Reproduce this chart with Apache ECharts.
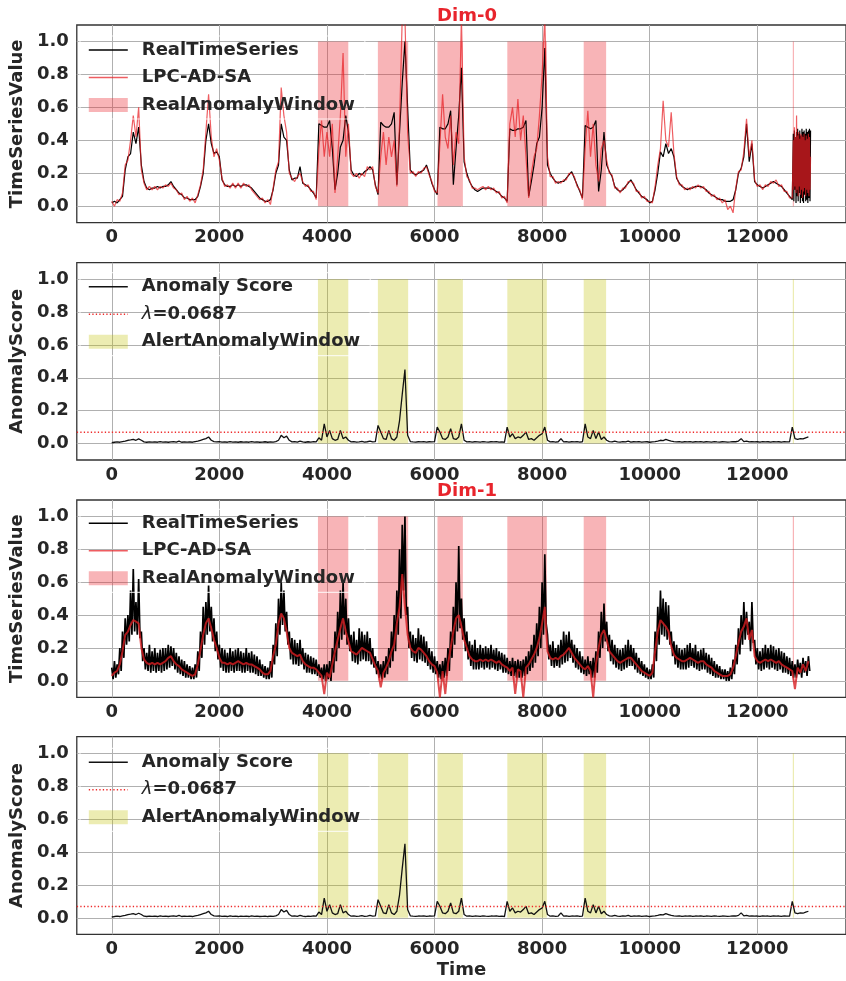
<!DOCTYPE html>
<html><head><meta charset="utf-8">
<script src="https://cdn.jsdelivr.net/npm/echarts@6/dist/echarts.min.js"></script>
<style>html,body{margin:0;padding:0;background:#fff}#c{width:846px;height:981px}</style>
</head><body><div id="c"></div>
<script>
// ---------------- data ----------------
const STEP = 50;              // time step of the main arrays (starting at t=0)
const TAIL_START = 12660;     // dense tail of Dim-0 (noisy end block)
const TAIL_STEP = 10;
const X_TICKS = [0, 2000, 4000, 6000, 8000, 10000, 12000];
const Y_TICKS = [0, 0.2, 0.4, 0.6, 0.8, 1.0];
const X_MIN = -650, X_MAX = 13649;
const Y_MIN = -0.1, Y_MAX = 1.1;
const LAMBDA = 0.0687;
const LAMBDA_NAME = 'λ=0.0687';
const windowStart = [3833, 4947, 6055, 7353, 8773, 12660];
const windowEnd   = [4397, 5510, 6527, 8088, 9190, 12680];
const SPAN_BOTTOM = 0.0, SPAN_TOP = 1.0;

// Dim-0 real series, t = 0..12650 step 50
const real0 = [
 0.02,0.03,0.02,0.04,0.06,0.22,0.30,0.32,0.45,0.38,
 0.48,0.25,0.15,0.11,0.10,0.11,0.11,0.12,0.11,0.12,
 0.12,0.13,0.15,0.12,0.10,0.08,0.07,0.05,0.05,0.04,
 0.04,0.04,0.06,0.12,0.20,0.40,0.50,0.38,0.32,0.33,
 0.30,0.16,0.13,0.12,0.12,0.13,0.12,0.13,0.12,0.13,
 0.13,0.12,0.11,0.09,0.07,0.05,0.04,0.03,0.03,0.04,
 0.10,0.20,0.25,0.50,0.42,0.40,0.22,0.16,0.17,0.17,
 0.24,0.14,0.13,0.12,0.10,0.08,0.05,0.50,0.49,0.48,
 0.48,0.52,0.35,0.10,0.20,0.36,0.40,0.55,0.45,0.22,
 0.19,0.18,0.20,0.19,0.21,0.22,0.24,0.22,0.13,0.07,
 0.51,0.49,0.48,0.48,0.50,0.57,0.13,0.45,0.75,1.00,
 0.60,0.22,0.20,0.19,0.20,0.21,0.22,0.25,0.20,0.14,
 0.10,0.07,0.48,0.47,0.47,0.50,0.58,0.13,0.35,0.55,
 0.84,0.27,0.20,0.15,0.12,0.10,0.09,0.10,0.11,0.11,
 0.11,0.11,0.10,0.09,0.08,0.06,0.05,0.03,0.47,0.46,
 0.46,0.47,0.47,0.48,0.52,0.06,0.15,0.25,0.38,0.42,
 0.60,0.96,0.25,0.20,0.17,0.15,0.14,0.15,0.15,0.17,
 0.19,0.21,0.17,0.13,0.09,0.05,0.49,0.48,0.47,0.48,
 0.52,0.09,0.22,0.45,0.25,0.21,0.18,0.12,0.10,0.09,
 0.10,0.12,0.14,0.16,0.13,0.10,0.08,0.06,0.05,0.04,
 0.02,0.03,0.10,0.20,0.33,0.30,0.38,0.32,0.35,0.30,
 0.17,0.14,0.12,0.11,0.10,0.11,0.11,0.12,0.12,0.12,
 0.11,0.10,0.08,0.07,0.06,0.05,0.04,0.04,0.03,0.03,
 0.03,0.04,0.10,0.20,0.23,0.30,0.50,0.27,0.38,0.15,
 0.13,0.12,0.11,0.12,0.13,0.14,0.15,0.14,0.13,0.12,
 0.10,0.08,0.06,0.04
];
// Dim-0 LPC-AD-SA prediction, t = 0..12650 step 50
const pred0 = [
 0.03,0.00,0.04,0.03,0.08,0.25,0.28,0.40,0.55,0.42,
 0.60,0.22,0.14,0.10,0.12,0.10,0.12,0.10,0.12,0.11,
 0.13,0.12,0.14,0.11,0.10,0.07,0.08,0.04,0.06,0.03,
 0.05,0.02,0.07,0.13,0.22,0.45,0.68,0.42,0.30,0.35,
 0.28,0.17,0.12,0.13,0.11,0.14,0.11,0.14,0.11,0.14,
 0.12,0.13,0.10,0.08,0.06,0.04,0.05,0.02,0.04,0.01,
 0.11,0.22,0.27,0.72,0.55,0.45,0.20,0.17,0.15,0.18,
 0.20,0.15,0.12,0.13,0.09,0.09,0.04,0.35,0.52,0.30,
 0.45,0.30,0.50,0.08,0.30,0.55,0.93,0.30,0.50,0.20,
 0.18,0.20,0.17,0.20,0.18,0.24,0.22,0.24,0.12,0.08,
 0.30,0.45,0.25,0.42,0.30,0.40,0.12,0.50,1.15,1.15,
 0.45,0.20,0.21,0.18,0.21,0.20,0.23,0.24,0.19,0.15,
 0.09,0.08,0.38,0.68,0.42,0.35,0.55,0.25,0.45,0.38,
 1.15,0.30,0.18,0.16,0.11,0.11,0.10,0.11,0.12,0.10,
 0.12,0.10,0.11,0.08,0.09,0.05,0.06,0.02,0.50,0.60,
 0.42,0.65,0.40,0.55,0.30,0.05,0.20,0.30,0.35,0.55,
 0.80,1.15,0.30,0.18,0.18,0.14,0.15,0.14,0.16,0.16,
 0.20,0.20,0.18,0.12,0.10,0.04,0.35,0.58,0.30,0.50,
 0.25,0.15,0.35,0.40,0.28,0.20,0.19,0.11,0.11,0.08,
 0.11,0.11,0.15,0.15,0.14,0.09,0.09,0.05,0.06,0.03,
 0.03,0.02,0.12,0.25,0.35,0.64,0.40,0.36,0.57,0.32,
 0.18,0.13,0.13,0.10,0.11,0.10,0.12,0.11,0.13,0.11,
 0.12,0.09,0.09,0.06,0.07,0.04,0.05,0.02,0.04,-0.02,
 0.00,-0.04,0.11,0.21,0.22,0.33,0.53,0.30,0.40,0.16,
 0.12,0.13,0.10,0.13,0.12,0.15,0.14,0.16,0.12,0.13,
 0.09,0.09,0.05,0.05
];
// Dim-0 noisy tail, t = 12660..12990 step 10
const real0Tail = [0.05,0.44,0.03,0.46,0.10,0.42,0.02,0.45,0.06,0.47,0.03,0.44,0.08,0.46,0.02,0.43,0.05,
 0.47,0.03,0.45,0.02,0.46,0.07,0.44,0.03,0.47,0.04,0.45,0.02,0.46,0.05,0.47,0.03,0.46];
const pred0Tail = [0.06,0.40,0.10,0.48,0.12,0.42,0.08,0.55,0.10,0.43,0.06,0.45,0.12,0.41,0.07,0.44,0.10,
 0.43,0.05,0.42,0.09,0.44,0.11,0.40,0.06,0.43,0.10,0.41,0.08,0.44,0.06,0.42,0.10,0.30];

// Anomaly score, t = 0..12950 step 50
const score = [
 0.005,0.008,0.010,0.008,0.012,0.015,0.020,0.022,0.025,0.020,
 0.028,0.020,0.010,0.008,0.010,0.009,0.010,0.008,0.012,0.009,
 0.010,0.008,0.010,0.012,0.009,0.015,0.008,0.010,0.009,0.010,
 0.008,0.012,0.015,0.020,0.025,0.030,0.040,0.020,0.012,0.010,
 0.012,0.009,0.010,0.008,0.012,0.009,0.010,0.008,0.011,0.009,
 0.010,0.008,0.012,0.009,0.010,0.008,0.009,0.011,0.008,0.010,
 0.009,0.012,0.020,0.050,0.035,0.045,0.020,0.010,0.012,0.009,
 0.015,0.010,0.008,0.011,0.009,0.012,0.010,0.035,0.020,0.120,
 0.040,0.080,0.030,0.020,0.025,0.080,0.030,0.040,0.020,0.010,
 0.012,0.009,0.010,0.014,0.009,0.011,0.015,0.010,0.012,0.110,
 0.070,0.030,0.025,0.080,0.030,0.020,0.040,0.140,0.300,0.450,
 0.050,0.012,0.010,0.009,0.011,0.010,0.012,0.009,0.011,0.010,
 0.012,0.100,0.070,0.030,0.025,0.040,0.090,0.030,0.025,0.040,
 0.120,0.020,0.010,0.012,0.009,0.011,0.010,0.009,0.012,0.010,
 0.009,0.011,0.010,0.012,0.009,0.010,0.008,0.100,0.040,0.060,
 0.030,0.040,0.035,0.050,0.070,0.025,0.030,0.020,0.035,0.050,
 0.060,0.100,0.020,0.010,0.012,0.009,0.011,0.030,0.010,0.012,
 0.009,0.011,0.010,0.012,0.009,0.011,0.120,0.040,0.030,0.080,
 0.030,0.070,0.025,0.040,0.020,0.012,0.010,0.015,0.010,0.009,
 0.012,0.010,0.015,0.009,0.011,0.010,0.012,0.009,0.010,0.011,
 0.008,0.010,0.012,0.015,0.020,0.018,0.025,0.020,0.015,0.012,
 0.010,0.012,0.009,0.011,0.010,0.012,0.009,0.011,0.010,0.012,
 0.009,0.011,0.010,0.009,0.012,0.010,0.009,0.011,0.010,0.009,
 0.010,0.012,0.011,0.015,0.030,0.012,0.015,0.010,0.012,0.010,
 0.011,0.009,0.012,0.010,0.011,0.009,0.012,0.010,0.011,0.009,
 0.012,0.010,0.011,0.100,0.030,0.025,0.030,0.028,0.035,0.040
];

// Dim-1 prediction, t = 0..12950 step 50
const pred1 = [
 0.03,0.05,0.06,0.10,0.18,0.28,0.30,0.34,0.37,0.36,
 0.35,0.20,0.13,0.11,0.10,0.11,0.10,0.11,0.10,0.11,
 0.12,0.14,0.15,0.12,0.10,0.09,0.07,0.06,0.05,0.04,
 0.03,0.04,0.10,0.19,0.28,0.35,0.38,0.32,0.25,0.20,
 0.14,0.11,0.11,0.10,0.11,0.10,0.11,0.12,0.11,0.10,
 0.11,0.10,0.10,0.09,0.08,0.07,0.05,0.04,0.04,0.06,
 0.15,0.22,0.35,0.41,0.38,0.30,0.20,0.17,0.16,0.15,
 0.16,0.12,0.10,0.09,0.08,0.08,0.07,0.05,0.03,-0.08,
 0.05,0.02,0.10,0.18,0.25,0.32,0.38,0.30,0.24,0.18,
 0.17,0.16,0.18,0.20,0.19,0.18,0.17,0.13,0.09,0.06,
 -0.04,0.05,0.08,0.12,0.18,0.22,0.35,0.45,0.65,0.45,
 0.28,0.20,0.18,0.17,0.20,0.19,0.17,0.15,0.12,0.10,
 0.09,0.05,-0.10,0.06,-0.08,0.10,0.20,0.30,0.38,0.40,
 0.33,0.25,0.20,0.15,0.13,0.12,0.12,0.13,0.12,0.13,
 0.12,0.13,0.12,0.11,0.12,0.10,0.09,0.08,0.06,0.08,
 -0.08,0.07,0.06,-0.10,0.08,0.10,0.13,0.16,0.20,0.26,
 0.35,0.45,0.18,0.14,0.13,0.14,0.13,0.15,0.16,0.18,
 0.20,0.17,0.14,0.12,0.10,0.08,0.07,0.09,0.06,-0.10,
 0.10,0.20,0.28,0.31,0.25,0.18,0.16,0.14,0.12,0.11,
 0.12,0.13,0.14,0.14,0.12,0.10,0.08,0.06,0.05,0.04,
 0.03,0.05,0.18,0.30,0.37,0.35,0.33,0.30,0.21,0.16,
 0.14,0.13,0.12,0.12,0.13,0.14,0.13,0.12,0.11,0.12,
 0.12,0.10,0.09,0.08,0.06,0.05,0.04,0.03,0.03,0.03,
 0.04,0.08,0.15,0.23,0.30,0.33,0.38,0.25,0.31,0.15,
 0.12,0.11,0.12,0.13,0.12,0.13,0.12,0.11,0.12,0.10,
 0.09,0.08,0.07,0.06,-0.05,0.08,0.05,0.10,0.06,0.12
];
// Dim-1 real series: upper and lower envelope of the noisy band (hi at t, lo at t+25)
const real1Hi = [
 0.08,0.12,0.10,0.20,0.30,0.38,0.40,0.55,0.68,0.48,
 0.62,0.30,0.20,0.17,0.22,0.18,0.20,0.17,0.19,0.20,
 0.20,0.22,0.21,0.20,0.17,0.15,0.13,0.12,0.10,0.09,
 0.08,0.10,0.18,0.30,0.45,0.48,0.58,0.45,0.38,0.30,
 0.22,0.20,0.19,0.17,0.20,0.18,0.19,0.20,0.18,0.17,
 0.20,0.17,0.18,0.16,0.15,0.13,0.10,0.09,0.08,0.12,
 0.22,0.35,0.50,0.60,0.55,0.42,0.30,0.26,0.25,0.23,
 0.25,0.20,0.17,0.16,0.15,0.14,0.13,0.10,0.08,0.10,
 0.10,0.12,0.20,0.30,0.42,0.55,0.60,0.50,0.38,0.28,
 0.30,0.25,0.32,0.30,0.28,0.30,0.26,0.20,0.15,0.12,
 0.10,0.12,0.15,0.20,0.30,0.40,0.55,0.80,0.95,1.00,
 0.45,0.30,0.28,0.26,0.32,0.28,0.27,0.24,0.20,0.18,
 0.15,0.12,0.10,0.12,0.14,0.20,0.30,0.45,0.60,0.82,
 0.50,0.38,0.30,0.24,0.22,0.25,0.20,0.22,0.20,0.21,
 0.20,0.22,0.19,0.20,0.18,0.17,0.16,0.14,0.12,0.14,
 0.12,0.13,0.12,0.13,0.15,0.18,0.22,0.28,0.35,0.45,
 0.60,0.77,0.28,0.22,0.24,0.20,0.22,0.25,0.30,0.28,
 0.30,0.25,0.22,0.20,0.18,0.15,0.13,0.15,0.12,0.14,
 0.18,0.30,0.42,0.47,0.36,0.28,0.25,0.22,0.20,0.19,
 0.20,0.22,0.25,0.22,0.20,0.17,0.14,0.12,0.10,0.08,
 0.07,0.10,0.30,0.45,0.55,0.50,0.48,0.46,0.30,0.24,
 0.22,0.20,0.19,0.20,0.22,0.23,0.20,0.22,0.18,0.19,
 0.20,0.17,0.16,0.14,0.12,0.10,0.09,0.07,0.07,0.06,
 0.08,0.13,0.22,0.32,0.40,0.48,0.42,0.36,0.48,0.25,
 0.20,0.18,0.20,0.22,0.20,0.22,0.21,0.19,0.20,0.18,
 0.17,0.15,0.14,0.12,0.10,0.13,0.11,0.14,0.12,0.15
];
const real1Lo = [
 0.01,0.02,0.04,0.06,0.14,0.22,0.24,0.28,0.30,0.28,
 0.26,0.12,0.07,0.06,0.05,0.06,0.05,0.06,0.05,0.06,
 0.07,0.08,0.09,0.07,0.05,0.04,0.03,0.02,0.02,0.01,
 0.01,0.02,0.06,0.14,0.22,0.28,0.30,0.24,0.18,0.13,
 0.08,0.06,0.05,0.05,0.06,0.05,0.06,0.06,0.05,0.05,
 0.06,0.05,0.05,0.04,0.03,0.03,0.02,0.01,0.01,0.02,
 0.10,0.15,0.28,0.34,0.30,0.22,0.13,0.10,0.10,0.09,
 0.10,0.07,0.05,0.05,0.04,0.04,0.03,0.02,0.01,0.00,
 0.01,0.00,0.05,0.12,0.20,0.25,0.28,0.22,0.18,0.12,
 0.11,0.10,0.12,0.13,0.12,0.12,0.10,0.08,0.04,0.02,
 0.01,0.02,0.04,0.08,0.12,0.18,0.28,0.38,0.55,0.40,
 0.20,0.14,0.12,0.11,0.13,0.12,0.11,0.09,0.07,0.05,
 0.04,0.02,0.01,0.02,0.03,0.06,0.14,0.22,0.30,0.32,
 0.25,0.18,0.13,0.09,0.07,0.07,0.07,0.08,0.07,0.08,
 0.07,0.08,0.07,0.06,0.07,0.05,0.05,0.04,0.03,0.03,
 0.02,0.02,0.02,0.03,0.04,0.06,0.08,0.11,0.15,0.20,
 0.28,0.35,0.13,0.09,0.08,0.09,0.08,0.10,0.11,0.12,
 0.14,0.11,0.08,0.07,0.05,0.04,0.03,0.04,0.02,0.02,
 0.05,0.14,0.20,0.24,0.18,0.12,0.10,0.08,0.07,0.06,
 0.07,0.08,0.09,0.09,0.07,0.05,0.04,0.03,0.02,0.01,
 0.01,0.02,0.12,0.22,0.28,0.27,0.25,0.22,0.15,0.10,
 0.08,0.07,0.07,0.07,0.08,0.09,0.08,0.07,0.06,0.07,
 0.07,0.05,0.04,0.03,0.02,0.02,0.01,0.01,0.00,0.00,
 0.01,0.04,0.10,0.16,0.22,0.25,0.28,0.18,0.23,0.10,
 0.07,0.06,0.07,0.08,0.07,0.08,0.07,0.06,0.07,0.05,
 0.05,0.04,0.03,0.02,0.02,0.04,0.02,0.05,0.03,0.06
];

// ---------------- build ----------------
const pts = (arr, start, step) => arr.map((v, i) => [start + i * step, v]);
const real0Data = pts(real0, 0, STEP).concat(pts(real0Tail, TAIL_START, TAIL_STEP));
const pred0Data = pts(pred0, 0, STEP).concat(pts(pred0Tail, TAIL_START, TAIL_STEP));
const scoreData = pts(score, 0, STEP);
const pred1Data = pts(pred1, 0, STEP);
const real1Data = [];
real1Hi.forEach((v, i) => { real1Data.push([i * STEP, v]); real1Data.push([i * STEP + STEP / 2, real1Lo[i]]); });
const lambdaData = [[X_MIN, LAMBDA], [X_MAX, LAMBDA]];
const windowData = windowStart.map((s, i) => [s, windowEnd[i]]);

const FONT = 'DejaVu Sans';
const TXT = '#262626';
const RED_WIN = 'rgba(235,40,50,0.35)';
const YEL_WIN = 'rgba(191,191,0,0.30)';
const LINE_RED = 'rgba(232,30,36,0.72)';
const lbl = { fontFamily: FONT, fontWeight: 'bold', fontSize: 18, color: TXT };

const gridDefs = [
  { top: 25, height: 197.7, yname: 'TimeSeriesValue' },
  { top: 262.7, height: 197.3, yname: 'AnomalyScore' },
  { top: 500, height: 197.3, yname: 'TimeSeriesValue' },
  { top: 736.7, height: 197.6, yname: 'AnomalyScore' }
];

function windowSeries(name, color, gi) {
  return {
    type: 'custom', name, xAxisIndex: gi, yAxisIndex: gi, data: windowData,
    encode: { x: [0, 1] }, itemStyle: { color }, silent: true, z: 1, animation: false,
    emphasis: { disabled: true },
    renderItem(params, api) {
      const a = api.coord([api.value(0), SPAN_TOP]);
      const b = api.coord([api.value(1), SPAN_BOTTOM]);
      return { type: 'rect', shape: { x: a[0], y: a[1], width: Math.max(b[0] - a[0], 1.2), height: b[1] - a[1] },
               style: { fill: color, opacity: 1 } };
    }
  };
}
function lineSeries(name, data, gi, color, width, z) {
  return { type: 'line', name, data, xAxisIndex: gi, yAxisIndex: gi, symbol: 'none', showSymbol: false,
           lineStyle: { color, width }, itemStyle: { color }, z, animation: false, silent: true,
           emphasis: { disabled: true } };
}
const hideSym = { opacity: 0 };
function legend(top, names) {
  return {
    orient: 'vertical', left: 80, top, padding: [4, 10, 4, 8], itemGap: 7.5, itemWidth: 39, itemHeight: 14,
    backgroundColor: 'transparent', borderColor: 'rgba(255,255,255,0.75)', borderWidth: 1.2, borderRadius: 4, z: 4,
    selectedMode: false, data: names,
    lineStyle: { width: 1.6 },
    textStyle: Object.assign({}, lbl, { lineHeight: 20, padding: [0, 0, 0, 9],
      rich: { i: { fontFamily: FONT, fontStyle: 'italic', fontWeight: 'normal', fontSize: 18, color: TXT },
              b: { fontFamily: FONT, fontWeight: 'bold', fontSize: 18, color: TXT } } }),
    formatter: n => n === LAMBDA_NAME ? '{i|λ}{b|=0.0687}' : n
  };
}
const dottedStyle = { color: '#ee2a2a', width: 1.3, type: [1.3, 2.2] };

const series = [
  windowSeries('RealAnomalyWindow', RED_WIN, 0),
  lineSeries('RealTimeSeries', real0Data, 0, '#000', 1.2, 2),
  lineSeries('LPC-AD-SA', pred0Data, 0, LINE_RED, 1.2, 3),
  windowSeries('AlertAnomalyWindow', YEL_WIN, 1),
  lineSeries('Anomaly Score', scoreData, 1, '#111', 1.3, 2),
  Object.assign(lineSeries(LAMBDA_NAME, lambdaData, 1, '#ee2a2a', 1.3, 3), { lineStyle: dottedStyle }),
  windowSeries('RealAnomalyWindow', RED_WIN, 2),
  lineSeries('RealTimeSeries', real1Data, 2, '#000', 1.7, 2),
  lineSeries('LPC-AD-SA', pred1Data, 2, 'rgba(215,30,34,0.8)', 2, 3),
  windowSeries('AlertAnomalyWindow', YEL_WIN, 3),
  lineSeries('Anomaly Score', scoreData, 3, '#111', 1.3, 2),
  Object.assign(lineSeries(LAMBDA_NAME, lambdaData, 3, '#ee2a2a', 1.3, 3), { lineStyle: dottedStyle })
];

const chart = echarts.init(document.getElementById('c'), null, { renderer: 'canvas' });
chart.setOption({
  animation: false,
  backgroundColor: '#fff',
  title: [
    { text: 'Dim-0', left: 462, top: 2, textAlign: 'center', textStyle: { fontFamily: FONT, fontWeight: 'bold', fontSize: 18, color: '#e8242c' } },
    { text: 'Dim-1', left: 462, top: 477, textAlign: 'center', textStyle: { fontFamily: FONT, fontWeight: 'bold', fontSize: 18, color: '#e8242c' } }
  ],
  grid: gridDefs.map(g => ({ left: 72, top: g.top, width: 779, height: g.height, show: true,
    borderColor: '#333', borderWidth: 1.3, backgroundColor: 'transparent' })),
  xAxis: gridDefs.map((g, i) => ({
    type: 'value', gridIndex: i, min: X_MIN, max: X_MAX,
    axisLine: { show: false }, axisTick: { show: false, customValues: X_TICKS },
    axisLabel: Object.assign({}, lbl, { customValues: X_TICKS, margin: 6, formatter: v => String(v) }),
    splitLine: { show: true, lineStyle: { color: '#b0b0b0', width: 1 } },
    name: i === 3 ? 'Time' : '', nameLocation: 'middle', nameGap: 27, nameTextStyle: lbl
  })),
  yAxis: gridDefs.map((g, i) => ({
    type: 'value', gridIndex: i, min: Y_MIN, max: Y_MAX,
    axisLine: { show: false }, axisTick: { show: false, customValues: Y_TICKS },
    axisLabel: Object.assign({}, lbl, { customValues: Y_TICKS, margin: 8, formatter: v => v.toFixed(1) }),
    splitLine: { show: true, lineStyle: { color: '#b0b0b0', width: 1 } },
    name: g.yname, nameLocation: 'middle', nameGap: 44, nameTextStyle: lbl
  })),
  legend: [
    legend(36, [{ name: 'RealTimeSeries', itemStyle: hideSym }, { name: 'LPC-AD-SA', itemStyle: hideSym }, { name: 'RealAnomalyWindow', icon: 'rect' }]),
    legend(272.7, [{ name: 'Anomaly Score', itemStyle: hideSym }, { name: LAMBDA_NAME, itemStyle: hideSym }, { name: 'AlertAnomalyWindow', icon: 'rect' }]),
    legend(509.3, [{ name: 'RealTimeSeries', itemStyle: hideSym }, { name: 'LPC-AD-SA', itemStyle: hideSym }, { name: 'RealAnomalyWindow', icon: 'rect' }]),
    legend(748.3, [{ name: 'Anomaly Score', itemStyle: hideSym }, { name: LAMBDA_NAME, itemStyle: hideSym }, { name: 'AlertAnomalyWindow', icon: 'rect' }])
  ],
  series
});
</script>
</body></html>
